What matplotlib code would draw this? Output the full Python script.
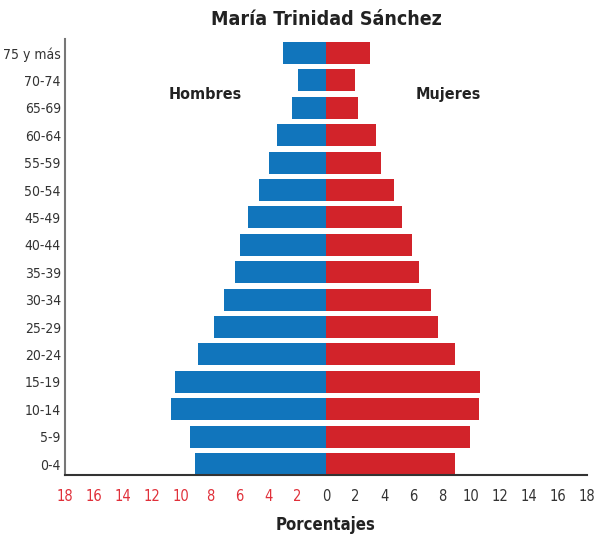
import matplotlib
matplotlib.use("Agg")
import matplotlib.pyplot as plt
import numpy as np

edades = ["0-4", "5-9", "10-14", "15-19", "20-24", "25-29", "30-34", "35-39",
          "40-44", "45-49", "50-54", "55-59", "60-64", "65-69", "70-74", "75 y más"]
hombres = [9.0, 9.4, 10.7, 10.4, 8.8, 7.7, 7.0, 6.25, 5.95, 5.4, 4.6, 3.95, 3.35, 2.35, 1.9, 3.0]
mujeres = [8.9, 9.9, 10.55, 10.6, 8.9, 7.7, 7.25, 6.4, 5.9, 5.25, 4.7, 3.8, 3.45, 2.2, 2.0, 3.0]
ticks = list(range(-18, 19, 2))

plt.rcParams['font.family'] = ['DejaVu Sans']
plt.rcParams['font.stretch'] = 'condensed'

fig = plt.figure(figsize=(5.96, 5.38), dpi=100)
ax = fig.add_axes([0.109, 0.117, 0.876, 0.81])

y = np.arange(len(edades))
ax.barh(y, [-h for h in hombres], height=0.8, color="#1175BC")
ax.barh(y, mujeres, height=0.8, color="#D2232A")

ax.set_xlim(-18, 18)
ax.set_ylim(-0.4, 15.5)
ax.set_yticks(y)
ax.set_yticklabels(edades, fontsize=10, color="#333333")
ax.set_xticks(ticks)
ax.set_xticklabels([str(abs(t)) for t in ticks], fontsize=10.5)
for t, lab in zip(ticks, ax.get_xticklabels()):
    lab.set_color("#E0303A" if t < 0 else "#333333")
ax.tick_params(length=0, pad=10)
ax.tick_params(axis='y', pad=3)

for s in ["top", "right"]:
    ax.spines[s].set_visible(False)
ax.spines["left"].set_color("#777777")
ax.spines["left"].set_linewidth(1.5)
ax.spines["bottom"].set_color("#333333")
ax.spines["bottom"].set_linewidth(1.5)

ax.text(-8.3, 13.5, "Hombres", fontsize=11.5, fontweight="bold", color="#222222", ha="center", va="center")
ax.text(8.4, 13.5, "Mujeres", fontsize=11.5, fontweight="bold", color="#222222", ha="center", va="center")

fig.text(0.547, 0.963, "María Trinidad Sánchez", fontsize=14, fontweight="bold", color="#222222", ha="center", va="center")
fig.text(0.547, 0.024, "Porcentajes", fontsize=12, fontweight="bold", color="#222222", ha="center", va="center")

fig.savefig("out.png", dpi=100)
